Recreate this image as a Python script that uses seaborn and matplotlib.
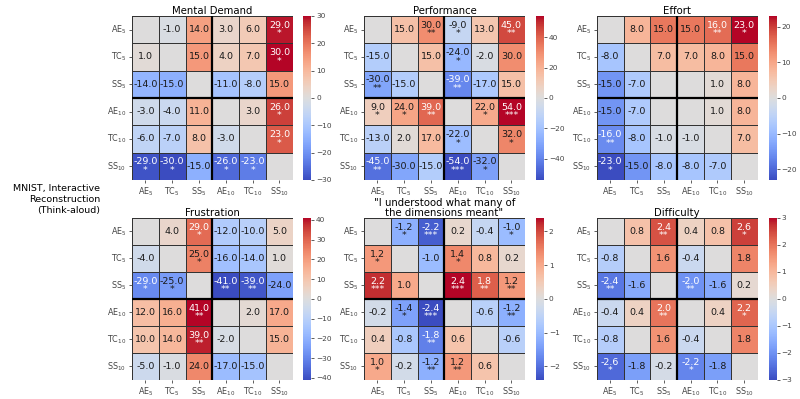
import numpy as np
import seaborn as sns
import matplotlib.pyplot as plt

labels = ["AE$_5$", "TC$_5$", "SS$_5$", "AE$_{10}$", "TC$_{10}$", "SS$_{10}$"]

titles = [
    "Mental Demand",
    "Performance",
    "Effort",
    "Frustration",
    "\"I understood what many of\nthe dimensions meant\"",
    "Difficulty",
]

mental = [
    [0, -1, 14, 3, 6, 29],
    [1, 0, 15, 4, 7, 30],
    [-14, -15, 0, -11, -8, 15],
    [-3, -4, 11, 0, 3, 26],
    [-6, -7, 8, -3, 0, 23],
    [-29, -30, -15, -26, -23, 0],
]
mental_sig = [
    ["", "", "", "", "", "*"],
    ["", "", "", "", "", "*"],
    ["", "", "", "", "", ""],
    ["", "", "", "", "", "*"],
    ["", "", "", "", "", "*"],
    ["*", "*", "", "*", "*", ""],
]

performance = [
    [0, 15, 30, -9, 13, 45],
    [-15, 0, 15, -24, -2, 30],
    [-30, -15, 0, -39, -17, 15],
    [9, 24, 39, 0, 22, 54],
    [-13, 2, 17, -22, 0, 32],
    [-45, -30, -15, -54, -32, 0],
]
performance_sig = [
    ["", "", "**", "*", "", "**"],
    ["", "", "", "*", "", ""],
    ["**", "", "", "**", "", ""],
    ["*", "*", "**", "", "*", "***"],
    ["", "", "", "*", "", "*"],
    ["**", "", "", "***", "*", ""],
]

effort = [
    [0, 8, 15, 15, 16, 23],
    [-8, 0, 7, 7, 8, 15],
    [-15, -7, 0, 0, 1, 8],
    [-15, -7, 0, 0, 1, 8],
    [-16, -8, -1, -1, 0, 7],
    [-23, -15, -8, -8, -7, 0],
]
effort_sig = [
    ["", "", "", "", "**", "*"],
    ["", "", "", "", "", ""],
    ["", "", "", "", "", ""],
    ["", "", "", "", "", ""],
    ["**", "", "", "", "", ""],
    ["*", "", "", "", "", ""],
]

frustration = [
    [0, 4, 29, -12, -10, 5],
    [-4, 0, 25, -16, -14, 1],
    [-29, -25, 0, -41, -39, -24],
    [12, 16, 41, 0, 2, 17],
    [10, 14, 39, -2, 0, 15],
    [-5, -1, 24, -17, -15, 0],
]
frustration_sig = [
    ["", "", "*", "", "", ""],
    ["", "", "*", "", "", ""],
    ["*", "*", "", "**", "**", ""],
    ["", "", "**", "", "", ""],
    ["", "", "**", "", "", ""],
    ["", "", "", "", "", ""],
]

understood = [
    [0, -1.2, -2.2, 0.2, -0.4, -1.0],
    [1.2, 0, -1.0, 1.4, 0.8, 0.2],
    [2.2, 1.0, 0, 2.4, 1.8, 1.2],
    [-0.2, -1.4, -2.4, 0, -0.6, -1.2],
    [0.4, -0.8, -1.8, 0.6, 0, -0.6],
    [1.0, -0.2, -1.2, 1.2, 0.6, 0],
]
understood_sig = [
    ["", "*", "***", "", "", "*"],
    ["*", "", "", "*", "", ""],
    ["***", "", "", "***", "**", "**"],
    ["", "*", "***", "", "", "**"],
    ["", "", "**", "", "", ""],
    ["*", "", "**", "**", "", ""],
]

difficulty = [
    [0, 0.8, 2.4, 0.4, 0.8, 2.6],
    [-0.8, 0, 1.6, -0.4, 0, 1.8],
    [-2.4, -1.6, 0, -2.0, -1.6, 0.2],
    [-0.4, 0.4, 2.0, 0, 0.4, 2.2],
    [-0.8, 0, 1.6, -0.4, 0, 1.8],
    [-2.6, -1.8, -0.2, -2.2, -1.8, 0],
]
difficulty_sig = [
    ["", "", "**", "", "", "*"],
    ["", "", "", "", "", ""],
    ["**", "", "", "**", "", ""],
    ["", "", "**", "", "", "*"],
    ["", "", "", "", "", ""],
    ["*", "", "", "*", "", ""],
]

panels = [
    (mental, mental_sig, 30, [-30, -20, -10, 0, 10, 20, 30]),
    (performance, performance_sig, 54, [-40, -20, 0, 20, 40]),
    (effort, effort_sig, 23, [-20, -10, 0, 10, 20]),
    (frustration, frustration_sig, 41, [-40, -30, -20, -10, 0, 10, 20, 30, 40]),
    (understood, understood_sig, 2.4, [-2, -1, 0, 1, 2]),
    (difficulty, difficulty_sig, 3, [-3, -2, -1, 0, 1, 2, 3]),
]

fig = plt.figure(figsize=(8, 3.99), dpi=100)

xs = [0.165, 0.455, 0.746]
cxs = [0.379, 0.670, 0.961]
ys = [0.549, 0.048]
hs = [0.411, 0.406]

for i, (vals, sig, vlim, ticks) in enumerate(panels):
    r, c = divmod(i, 3)
    ax = fig.add_axes([xs[c], ys[r], 0.201, hs[r]])
    cax = fig.add_axes([cxs[c], ys[r], 0.010, hs[r]])
    arr = np.array(vals, dtype=float)
    annot = np.empty(arr.shape, dtype=object)
    for a in range(6):
        for b in range(6):
            if arr[a, b] == 0:
                annot[a, b] = ""
            else:
                txt = f"{arr[a, b]:.1f}"
                if sig[a][b]:
                    txt += "\n" + sig[a][b]
                annot[a, b] = txt
    sns.heatmap(
        arr, ax=ax, cbar_ax=cax, cmap="coolwarm", vmin=-vlim, vmax=vlim,
        annot=annot, fmt="", annot_kws={"size": 6.8, "linespacing": 0.95},
        linewidths=0.5, linecolor="#333333",
        xticklabels=labels, yticklabels=labels,
    )
    # only the strongest cells get white text
    for t, v in zip(ax.texts, arr.flat):
        t.set_color("white" if abs(v) / vlim > 0.66 else ".1")
    ax.axhline(3, color="black", lw=1.6)
    ax.axvline(3, color="black", lw=1.6)
    ax.set_title(titles[i], fontsize=7.3, pad=1.5, linespacing=0.95)
    ax.set_yticklabels(labels, rotation=0)
    ax.set_xticklabels(labels, rotation=0)
    ax.tick_params(axis="both", labelsize=5.8, length=2.5, width=0.6,
                   colors="#444444", pad=1.5)
    cax.set_yticks(ticks)
    cax.tick_params(labelsize=5.3, length=2, width=0.6, colors="#444444", pad=1.5)

fig.text(0.125, 0.5, "MNIST, Interactive\nReconstruction\n(Think-aloud)",
         ha="right", va="center", fontsize=6.8, linespacing=1.25)

fig.savefig("out.png", dpi=100)
